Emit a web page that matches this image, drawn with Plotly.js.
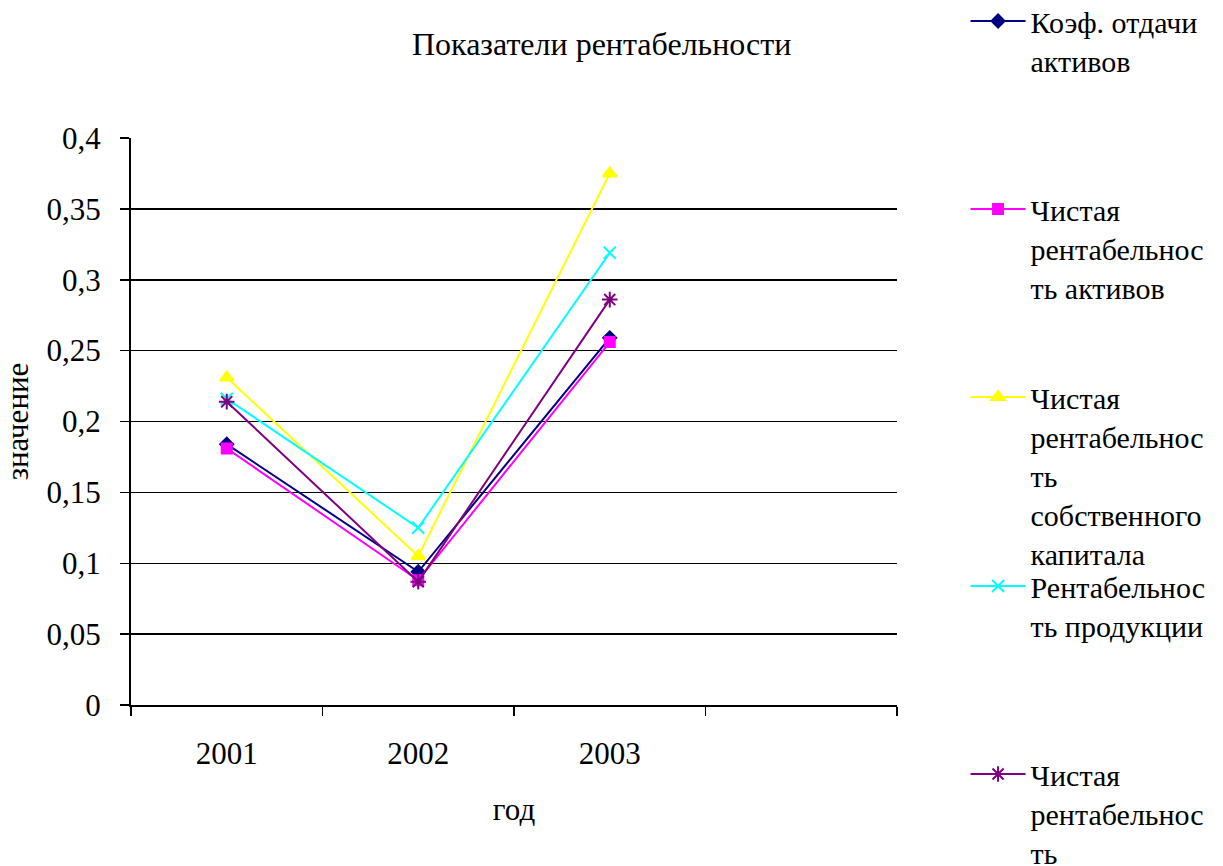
<!DOCTYPE html>
<html>
<head>
<meta charset="utf-8">
<script src="https://cdn.plot.ly/plotly-3.0.1.min.js"></script>
<style>html,body{margin:0;padding:0;background:#fff;}#chart{width:1223px;height:866px;}</style>
</head>
<body>
<div id="chart"></div>
<script>
const years = ["2001", "2002", "2003"];
const seriesNames = [
  "Коэф. отдачи<br>активов",
  "Чистая<br>рентабельнос<br>ть активов",
  "Чистая<br>рентабельнос<br>ть<br>собственного<br>капитала",
  "Рентабельнос<br>ть продукции",
  "Чистая<br>рентабельнос<br>ть"
];
const assetTurnover = [0.184, 0.094, 0.259];
const netReturnAssets = [0.181, 0.088, 0.256];
const netReturnEquity = [0.231, 0.105, 0.375];
const productReturn = [0.216, 0.125, 0.319];
const netReturnOther = [0.214, 0.087, 0.286];

const values = [assetTurnover, netReturnAssets, netReturnEquity, productReturn, netReturnOther];
const colors = ["#000080", "#FF00FF", "#FFFF00", "#00FFFF", "#800080"];
const symbols = ["diamond", "square", "triangle-up", "x-thin-open", "asterisk-open"];
const sizes = [10, 10, 12, 12, 13];

const font = '"Liberation Serif", "Times New Roman", "DejaVu Serif", serif';
const legendKeys = ["legend", "legend2", "legend3", "legend4", "legend5"];

const traces = values.map((v, i) => ({
  x: years,
  y: v,
  type: "scatter",
  mode: "lines+markers",
  name: seriesNames[i],
  legend: legendKeys[i],
  line: {color: colors[i], width: 2},
  marker: {color: colors[i], symbol: symbols[i], size: sizes[i], line: {color: colors[i], width: 2}}
}));

// plot area: 567 px tall, bottom at 705 px; legend entry centres (px) 22, 210, 398, 587, 775
const plotTop = 138, plotH = 567;
function legendAt(centrePx) {
  return {
    x: 1.0895, xanchor: "left",
    y: 1 + (plotTop - (centrePx - 27)) / plotH, yanchor: "top",
    valign: "top", itemwidth: 55, maxheight: 3000,
    bgcolor: "rgba(0,0,0,0)",
    font: {family: font, size: 30, color: "#000"}
  };
}
const legendCentres = [22, 210, 398, 587, 775];

const layout = {
  width: 1223, height: 866,
  margin: {l: 131, r: 326, t: 138, b: 161, autoexpand: false},
  paper_bgcolor: "#fff", plot_bgcolor: "#fff",
  font: {family: font, size: 31, color: "#000"},
  title: {text: "Показатели рентабельности", x: 0.492, xref: "container", xanchor: "center", y: 0.962, yref: "container", font: {family: font, size: 32, color: "#000"}},
  xaxis: {
    type: "category",
    categoryorder: "array",
    categoryarray: years.concat([" "]),
    range: [-0.5, 3.5],
    tickson: "boundaries",
    ticks: "outside", ticklen: 9, tickcolor: "#000", tickwidth: 1.5,
    showline: true, linecolor: "#000", linewidth: 2,
    showgrid: false, zeroline: false,
    ticklabelstandoff: 20,
    tickfont: {family: font, size: 31, color: "#000"},
    title: {text: "год", standoff: 28, font: {family: font, size: 31, color: "#000"}}
  },
  yaxis: {
    range: [0, 0.4],
    tickvals: [0, 0.05, 0.1, 0.15, 0.2, 0.25, 0.3, 0.35, 0.4],
    ticktext: ["0", "0,05", "0,1", "0,15", "0,2", "0,25", "0,3", "0,35", "0,4"],
    ticks: "outside", ticklen: 9, tickcolor: "#000", tickwidth: 1.5,
    showline: true, linecolor: "#000", linewidth: 2,
    showgrid: true, gridcolor: "#000", gridwidth: 1.5,
    zeroline: false,
    ticklabelstandoff: 13,
    tickfont: {family: font, size: 31, color: "#000"},
    title: {text: "значение", standoff: 16, font: {family: font, size: 31, color: "#000"}}
  },
  showlegend: true
};
legendKeys.forEach((k, i) => { layout[k] = legendAt(legendCentres[i]); });

Plotly.newPlot("chart", traces, layout, {displayModeBar: false, staticPlot: true});
</script>
</body>
</html>
